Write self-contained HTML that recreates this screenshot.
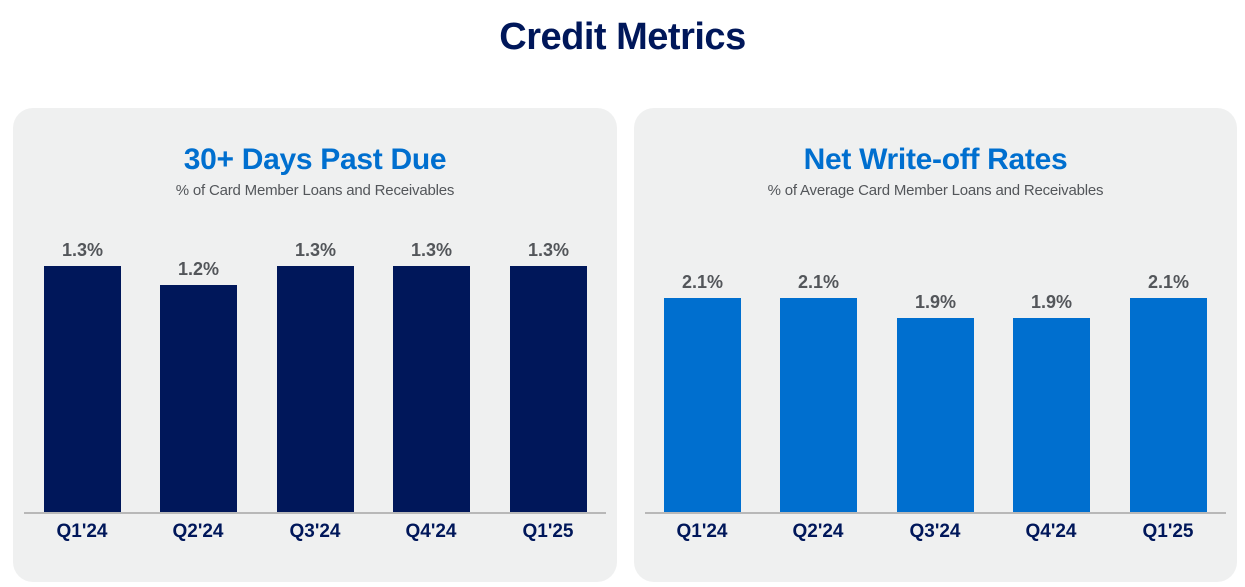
<!DOCTYPE html><html><head><style>
body{margin:0;width:1245px;height:587px;background:#fff;font-family:"Liberation Sans",sans-serif;position:relative;overflow:hidden}
.t{position:absolute;left:0;width:1245px;top:16px;text-align:center;font-size:38px;font-weight:bold;color:#00175a;letter-spacing:-0.5px}
.p{position:absolute;top:108px;height:474px;background:#eff0f0;border-radius:20px}
.h{position:absolute;width:100%;top:35px;text-align:center;font-size:30px;font-weight:bold;color:#006fcf;letter-spacing:-0.3px}
.s{position:absolute;width:100%;top:74px;text-align:center;font-size:15px;color:#53565a;letter-spacing:-0.2px}
.ax{position:absolute;top:404px;left:11px;right:11px;height:2px;background:#b8b8b8}
.b{position:absolute;width:77px;bottom:70px}
.v{position:absolute;width:77px;text-align:center;font-size:18px;font-weight:bold;color:#53565a}
.x{position:absolute;width:100px;text-align:center;top:413px;font-size:19px;font-weight:bold;color:#00175a}
</style></head><body>
<div class="t">Credit Metrics</div>
<div class="p" style="left:13px;width:604px">
<div class="h">30+ Days Past Due</div><div class="s">% of Card Member Loans and Receivables</div>
<div class="b" style="left:31px;top:158px;background:#00175a"></div><div class="v" style="left:31px;top:132px">1.3%</div><div class="x" style="left:19px">Q1'24</div>
<div class="b" style="left:147px;top:177px;background:#00175a"></div><div class="v" style="left:147px;top:151px">1.2%</div><div class="x" style="left:135px">Q2'24</div>
<div class="b" style="left:264px;top:158px;background:#00175a"></div><div class="v" style="left:264px;top:132px">1.3%</div><div class="x" style="left:252px">Q3'24</div>
<div class="b" style="left:380px;top:158px;background:#00175a"></div><div class="v" style="left:380px;top:132px">1.3%</div><div class="x" style="left:368px">Q4'24</div>
<div class="b" style="left:497px;top:158px;background:#00175a"></div><div class="v" style="left:497px;top:132px">1.3%</div><div class="x" style="left:485px">Q1'25</div>
<div class="ax"></div></div>
<div class="p" style="left:634px;width:603px">
<div class="h">Net Write-off Rates</div><div class="s">% of Average Card Member Loans and Receivables</div>
<div class="b" style="left:30px;top:190px;background:#006fcf"></div><div class="v" style="left:30px;top:164px">2.1%</div><div class="x" style="left:18px">Q1'24</div>
<div class="b" style="left:146px;top:190px;background:#006fcf"></div><div class="v" style="left:146px;top:164px">2.1%</div><div class="x" style="left:134px">Q2'24</div>
<div class="b" style="left:263px;top:210px;background:#006fcf"></div><div class="v" style="left:263px;top:184px">1.9%</div><div class="x" style="left:251px">Q3'24</div>
<div class="b" style="left:379px;top:210px;background:#006fcf"></div><div class="v" style="left:379px;top:184px">1.9%</div><div class="x" style="left:367px">Q4'24</div>
<div class="b" style="left:496px;top:190px;background:#006fcf"></div><div class="v" style="left:496px;top:164px">2.1%</div><div class="x" style="left:484px">Q1'25</div>
<div class="ax"></div></div>
</body></html>
